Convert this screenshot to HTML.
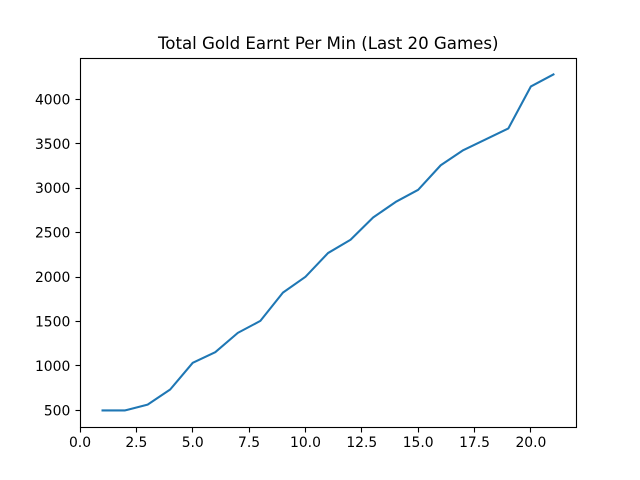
<!DOCTYPE html>
<html>
<head>
<meta charset="utf-8">
<title>Total Gold Earnt Per Min (Last 20 Games)</title>
<style>
html,body{margin:0;padding:0;background:#fff;}
svg{display:block;}
text{font-family:"DejaVu Sans",sans-serif;fill:#000;}
</style>
</head>
<body>
<svg id="chart" xmlns="http://www.w3.org/2000/svg" width="640" height="480" viewBox="0 0 640 480">
<rect x="0" y="0" width="640" height="480" fill="#fff"/>
<text x="158" y="49" text-anchor="start" font-size="16.67" textLength="340.5" lengthAdjust="spacing">Total Gold Earnt Per Min (Last 20 Games)</text>
<g id="marks"></g>
</svg>
<script>
const games = [1,2,3,4,5,6,7,8,9,10,11,12,13,14,15,16,17,18,19,20,21];
const goldValues = [500,500,565,735,1035,1155,1372,1507,1825,2003,2270,2420,2670,2845,2982,3258,3428,3550,3672,4145,4280];
const xTicks = [0,2.5,5,7.5,10,12.5,15,17.5,20];
const xTickLabels = ['0.0','2.5','5.0','7.5','10.0','12.5','15.0','17.5','20.0'];
const yTicks = [500,1000,1500,2000,2500,3000,3500,4000];
const yTickLabels = ['500','1000','1500','2000','2500','3000','3500','4000'];

const plotLeft = 80, plotRight = 576, plotTop = 57.6, plotBottom = 427.2;
const xMinData = Math.min.apply(null, games), xMaxData = Math.max.apply(null, games);
const yMinData = Math.min.apply(null, goldValues), yMaxData = Math.max.apply(null, goldValues);
const xPad = (xMaxData - xMinData) * 0.05, yPad = (yMaxData - yMinData) * 0.05;

function xScale(v) {
  return plotLeft + (v - (xMinData - xPad)) / (xMaxData - xMinData + 2 * xPad) * (plotRight - plotLeft);
}
function yScale(v) {
  return plotBottom - (v - (yMinData - yPad)) / (yMaxData - yMinData + 2 * yPad) * (plotBottom - plotTop);
}
function snap(p) {
  return Math.floor(p) + 0.5;
}

const NS = 'http://www.w3.org/2000/svg';
const marks = document.getElementById('marks');

function make(tag, attrs) {
  const el = document.createElementNS(NS, tag);
  Object.keys(attrs).forEach(function (k) { el.setAttribute(k, attrs[k]); });
  marks.appendChild(el);
  return el;
}

const line = make('polyline', {
  points: games.map(function (g, i) { return xScale(g).toFixed(2) + ',' + yScale(goldValues[i]).toFixed(2); }).join(' '),
  fill: 'none', stroke: '#1f77b4', 'stroke-width': 2.08, 'stroke-linecap': 'square', 'stroke-linejoin': 'round'
});



xTicks.forEach(function (t, i) {
  const px = snap(xScale(t));
  const tick = make('line', { x1: px, x2: px, y1: 427.5, y2: 432.5, stroke: '#000', 'stroke-width': 1.11 });
  
  
  const label = make('text', { x: xScale(t), y: 447, 'text-anchor': 'middle', 'font-size': 13.89 });
  label.textContent = xTickLabels[i];
  
  
});

yTicks.forEach(function (t, i) {
  const py = snap(yScale(t));
  const tick = make('line', { x1: 75.5, x2: 80.5, y1: py, y2: py, stroke: '#000', 'stroke-width': 1.11 });
  
  
  const label = make('text', { x: 70.3, y: yScale(t) + 5.05, 'text-anchor': 'end', 'font-size': 13.89 });
  label.textContent = yTickLabels[i];
  
  
});

const frame = make('rect', {
  x: 80.5, y: 58.5, width: 496, height: 369, fill: 'none', stroke: '#000', 'stroke-width': 1.11
});


</script>
</body>
</html>
